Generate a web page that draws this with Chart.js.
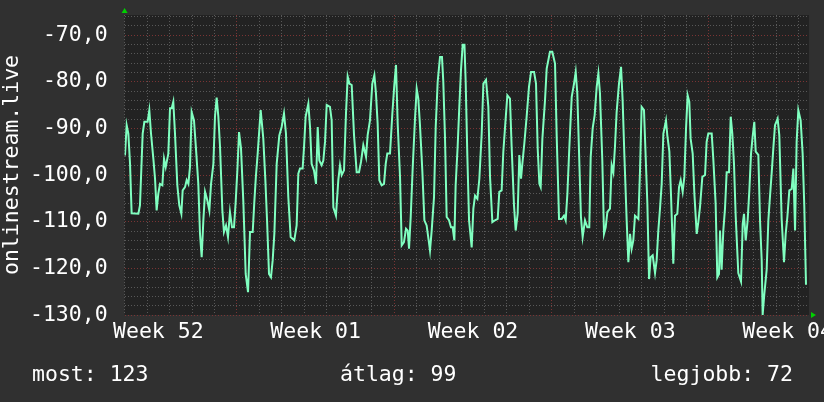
<!DOCTYPE html>
<html>
<head>
<meta charset="utf-8">
<script src="https://cdn.jsdelivr.net/npm/chart.js@4"></script>
<style>
  html, body { margin: 0; padding: 0; background: #303030; }
  #wrap { width: 824px; height: 402px; }
</style>
</head>
<body>
<div id="wrap"><canvas id="chart" width="824" height="402"></canvas></div>
<script>
// hours since the first day line of the graph
const hours = [
  0.4, 2.2, 4.0, 5.8, 7.5, 14.7, 16.4, 19.3, 21.1, 24.6, 26.4, 28.2, 30.7, 32.5, 34.2, 36.0,
  37.8, 40.3, 42.1, 43.9, 46.7, 48.5, 50.3, 52.0, 53.8, 56.3, 58.4, 60.6, 62.0, 64.5, 66.3, 68.1,
  69.8, 71.6, 74.1, 76.2, 78.7, 80.5, 82.3, 84.1, 85.9, 88.3, 90.5, 92.3, 94.8, 96.5, 98.3, 100.1,
  101.9, 104.4, 106.1, 108.3, 110.4, 112.5, 114.7, 116.8, 118.6, 120.4, 122.2, 124.3, 126.8, 129.3, 131.8, 133.9,
  136.8, 138.5, 140.3, 142.1, 145.3, 148.1, 150.3, 152.1, 154.2, 156.3, 158.1, 159.9, 162.4, 165.2, 167.7, 170.2,
  172.3, 174.8, 177.3, 181.2, 183.7, 185.5, 187.3, 190.1, 191.6, 193.3, 196.2, 198.0, 199.7, 202.2, 204.4, 206.2,
  207.9, 210.4, 212.2, 214.0, 215.8, 219.3, 221.1, 222.9, 225.7, 228.2, 230.0, 231.8, 234.3, 236.4, 238.2, 240.0,
  242.5, 245.0, 247.8, 250.3, 252.4, 254.9, 257.8, 259.5, 262.0, 264.5, 266.7, 268.4, 270.2, 272.0, 274.5, 277.0,
  278.8, 280.5, 283.4, 285.9, 288.0, 289.8, 291.6, 294.1, 295.9, 298.3, 300.5, 302.3, 303.7, 305.5, 307.6, 310.1,
  311.9, 313.6, 315.4, 317.9, 320.1, 322.5, 324.7, 326.1, 327.9, 330.4, 332.2, 334.3, 336.8, 338.9, 340.3, 342.1,
  343.9, 346.4, 348.5, 350.3, 352.1, 353.5, 355.6, 357.4, 359.2, 361.0, 362.9, 364.2, 366.0, 367.8, 370.6, 372.4,
  374.2, 376.7, 378.8, 381.3, 383.1, 385.9, 388.4, 390.2, 392.7, 395.5, 398.4, 400.1, 402.6, 404.4, 406.9, 408.7,
  411.5, 413.3, 415.8, 417.6, 419.7, 421.5, 423.3, 424.7, 426.8, 429.3, 431.8, 434.0, 437.2, 439.3, 441.1, 442.9,
  444.3, 446.1, 448.9, 450.7, 454.2, 456.7, 459.6, 461.4, 463.9, 466.7, 469.2, 471.0, 472.8, 474.9, 477.4, 479.9,
  481.7, 483.4, 485.6, 487.3, 489.1, 491.6, 494.1, 496.2, 497.7, 499.8, 501.9, 504.1, 505.9, 507.6, 510.1, 511.9,
  513.7, 515.5, 518.3, 520.1, 521.9, 523.6, 525.4, 527.9, 530.1, 531.8, 533.6, 536.1, 537.9, 539.7, 541.4, 543.2,
  545.0, 548.6, 550.3, 552.1, 554.6, 556.4, 558.2, 560.0, 561.7, 563.9, 566.4, 568.1, 569.9, 571.7, 573.5, 575.3,
  578.1, 579.5, 581.7, 583.4, 585.9, 587.7, 590.2, 592.0, 593.8, 595.9, 597.7, 599.5, 601.2, 603.0, 604.4, 606.6,
  608.4, 610.9, 612.6, 614.4, 616.9, 619.8, 621.5, 623.3, 626.9, 628.6, 631.1, 632.9, 634.7, 635.8, 637.5, 639.3,
  641.1, 642.9, 645.4, 647.2, 648.9, 650.7, 652.5, 655.3, 658.2, 660.0, 661.4, 663.2, 665.3, 667.1, 668.9, 670.6,
  672.4, 673.9, 676.7, 678.5, 680.3, 681.3, 683.1, 685.6, 687.4, 689.2, 690.9, 692.7, 694.5, 697.3, 699.1, 701.6,
  704.1, 705.9, 707.7, 709.8, 712.3, 714.1, 715.9, 717.6, 719.4, 721.9, 724.0, 725.8, 727.6
];

const values = [
  -95.8, -89.3, -91.1, -97.6, -108.2, -108.3, -106.5, -91.1, -88.6, -88.6, -86.1, -91.1, -96.5, -100.8, -107.6, -104,
  -101.9, -102.2, -96.5, -98.3, -95.4, -85.7, -85.7, -84.3, -91.1, -102.2, -106.5, -108.3, -103.3, -102.6, -101.1, -101.9,
  -98.3, -86.5, -88.3, -94.3, -101.9, -112.6, -117.6, -109.7, -103.6, -105.4, -107.6, -101.9, -97.6, -87.5, -83.4, -87.5,
  -94, -107.6, -112.2, -110.8, -113.3, -107.9, -111.2, -111.2, -105.8, -99, -90.8, -94.3, -105.8, -121.2, -125.1, -112.2,
  -112.2, -105.8, -100, -95.4, -86.1, -92.2, -101.1, -109.7, -121.2, -121.9, -118.3, -112.6, -97.6, -91.5, -89.7, -86.8,
  -91.1, -104.7, -113.3, -114, -110.8, -99.7, -98.6, -98.6, -94, -87.5, -84.7, -89.7, -97.6, -99, -101.9, -89.7,
  -96.9, -97.9, -96.9, -92.9, -85, -85.4, -88.3, -106.9, -108.7, -101.1, -97.9, -100, -99, -86.8, -78.9, -80.4,
  -80.7, -91.5, -99.4, -99.4, -97.2, -93.6, -96.1, -91.5, -88.3, -80.4, -78.6, -82.5, -89, -101.1, -102.2, -101.9,
  -97.6, -95.4, -95.4, -86.8, -80.7, -76.4, -89, -100.4, -115.1, -114.4, -111.5, -111.9, -115.8, -109, -98.6, -87.9,
  -81.5, -83.6, -89.3, -99, -109.7, -110.8, -114, -116.2, -111.9, -104.7, -89.7, -80, -74.7, -74.7, -80, -91.8,
  -109, -109.7, -111.2, -111.2, -114, -102.2, -94, -85.4, -77.5, -72.1, -72.1, -80, -96.1, -109.7, -115.5, -107.2,
  -104.4, -105.1, -100.8, -91.1, -80.4, -79.6, -85.4, -100.4, -110.1, -109.7, -109.4, -103.6, -103.3, -95, -87.9, -82.9,
  -83.6, -94, -106.5, -111.9, -108.3, -95.7, -100.8, -97.6, -93.3, -87.5, -81.1, -77.9, -77.9, -80.4, -94.3, -101.9,
  -102.6, -92.2, -84, -77.2, -73.6, -73.6, -76.1, -91.8, -109.4, -109.4, -108.7, -109.7, -104, -94, -83.3, -80.4,
  -77.9, -82.5, -97.6, -109, -113.3, -109.7, -111.2, -111.2, -96.1, -90, -87.2, -81.1, -78.2, -82.5, -96.9, -112.6,
  -111.2, -107.9, -107.2, -97.9, -99.4, -94, -86.5, -80.4, -76.8, -84, -95.4, -109.7, -118.7, -112.6, -115.8, -114,
  -108.7, -109.4, -99.4, -85.4, -86.1, -96.1, -106.1, -122.3, -117.6, -117.2, -121, -118.3, -111.9, -107.2, -101.9, -91.1,
  -88.3, -91.5, -95, -104, -119, -108.7, -108.3, -102.6, -101.1, -103.6, -100.4, -90, -82.9, -84.3, -92.2, -95.4,
  -104, -112.6, -110.1, -106.9, -100.4, -100, -92.9, -91.1, -91.1, -96.5, -106.1, -121.9, -121.2, -111.9, -120.3, -111.9,
  -107.2, -99.4, -99.4, -87.5, -91.1, -97.6, -108.7, -121, -122.8, -110.5, -108.3, -114, -109.7, -103.3, -95.4, -91.8,
  -88.6, -95, -95.7, -109.7, -118.3, -130, -125.5, -120.3, -109.7, -104.4, -99.7, -94.3, -89.3, -87.9, -91.5, -109.4,
  -118.7, -112.6, -109, -103.3, -103, -98.6, -111.9, -92.9, -86.1, -88.3, -95.4, -106.9, -123.5
];

const weekLabels = ['Week 52', 'Week 01', 'Week 02', 'Week 03', 'Week 04'];
const weekCenters = [36, 204, 372, 540, 708];   // hours, middle of each week
const weekStarts = [120, 288, 456, 624];        // hours, monday 00:00
const statNames = ['most', 'átlag', 'legjobb'];
const statValues = ['123', '99', '72'];

const FONT = '"DejaVu Sans Mono", monospace';
const RED = '#7a3434';
const GRAY = '#585858';
const LINE = '#80ffc0';

const xTicks = [];
for (let h = 0; h <= 720; h += 12) xTicks.push(h);
const yTicks = [];
for (let v = -130; v <= -66; v += 2) yTicks.push(v);

const points = hours.map((h, i) => ({ x: h, y: values[i] }));

const background = {
    id: 'background',
    beforeDraw(chart) {
        const { ctx, chartArea: a } = chart;
        ctx.save();
        ctx.fillStyle = '#303030';
        ctx.fillRect(0, 0, chart.width, chart.height);
        ctx.fillStyle = '#222222';
        ctx.fillRect(a.left, a.top, a.right - a.left, a.bottom - a.top);
        ctx.restore();
    }
};

const extras = {
    id: 'extras',
    afterDraw(chart) {
        const { ctx, chartArea: a } = chart;
        ctx.save();
        // axis arrows
        ctx.fillStyle = '#00d000';
        ctx.beginPath();
        ctx.moveTo(a.left - 3, a.top - 2);
        ctx.lineTo(a.left + 3, a.top - 2);
        ctx.lineTo(a.left, a.top - 7);
        ctx.fill();
        ctx.beginPath();
        ctx.moveTo(a.right + 2, a.bottom - 3);
        ctx.lineTo(a.right + 2, a.bottom + 3);
        ctx.lineTo(a.right + 7, a.bottom);
        ctx.fill();
        // summary line
        ctx.fillStyle = '#ffffff';
        ctx.font = '21.5px ' + FONT;
        ctx.textBaseline = 'alphabetic';
        ctx.textAlign = 'left';
        ctx.fillText(statNames[0] + ': ' + statValues[0], 32, 381);
        ctx.fillText(statNames[1] + ': ' + statValues[1], 340, 381);
        ctx.textAlign = 'right';
        ctx.fillText(statNames[2] + ': ' + statValues[2], 793, 381);
        ctx.restore();
    }
};

new Chart(document.getElementById('chart'), {
    type: 'line',
    data: {
        datasets: [{
            data: points,
            borderColor: LINE,
            borderWidth: 2,
            pointRadius: 0,
            fill: false,
            tension: 0
        }]
    },
    options: {
        responsive: false,
        animation: false,
        layout: { padding: { left: 0, right: 15, top: 15, bottom: 0 } },
        plugins: { legend: { display: false }, tooltip: { enabled: false } },
        scales: {
            x: {
                type: 'linear',
                min: 0,
                max: 730.8,
                afterBuildTicks: s => { s.ticks = xTicks.map(v => ({ value: v })); },
                afterFit: s => { s.height = 87; s.paddingLeft = 0; s.paddingRight = 0; },
                grid: {
                    drawTicks: false,
                    color: c => {
                        const v = c.tick.value;
                        if (v % 24 !== 0) return 'rgba(0,0,0,0)';
                        return weekStarts.includes(v) ? RED : GRAY;
                    }
                },
                border: { display: false, dash: [1, 2] },
                ticks: {
                    autoSkip: false,
                    maxRotation: 0,
                    padding: 5,
                    color: '#ffffff',
                    font: { family: FONT, size: 21.5 },
                    callback: v => {
                        const i = weekCenters.indexOf(v);
                        return i >= 0 ? weekLabels[i] : '';
                    }
                }
            },
            y: {
                min: -130,
                max: -65.7,
                afterBuildTicks: s => { s.ticks = yTicks.map(v => ({ value: v })); },
                afterFit: s => { s.width = 124.6; s.paddingTop = 0; s.paddingBottom = 0; },
                grid: {
                    drawTicks: false,
                    color: c => (c.tick.value % 10 === 0 ? RED : GRAY)
                },
                border: { display: false, dash: [1, 2] },
                ticks: {
                    autoSkip: false,
                    padding: 17,
                    color: '#ffffff',
                    font: { family: FONT, size: 21.5 },
                    callback: v => (v % 10 === 0 ? v.toFixed(1).replace('.', ',') : '')
                },
                title: {
                    display: true,
                    text: 'onlinestream.live',
                    color: '#ffffff',
                    font: { family: FONT, size: 21.5 },
                    padding: { top: 0, bottom: 0 }
                }
            }
        }
    },
    plugins: [background, extras]
});
</script>
</body>
</html>
